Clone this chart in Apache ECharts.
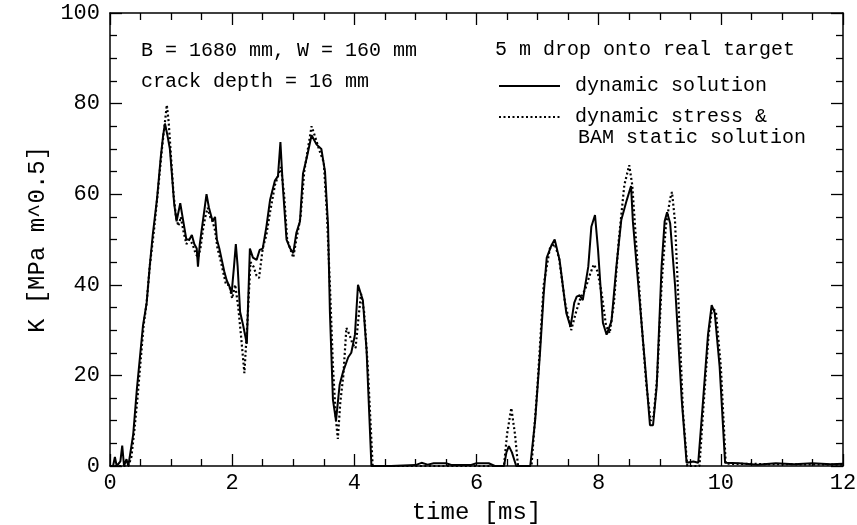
<!DOCTYPE html>
<html>
<head>
<meta charset="utf-8">
<script src="https://cdn.jsdelivr.net/npm/echarts@6/dist/echarts.min.js"></script>
<style>
  html, body { margin: 0; padding: 0; background: #fff; }
  #chart { width: 857px; height: 525px; }
</style>
</head>
<body>
<div id="chart"></div>
<script>
// time [ms] and K for the dynamic solution (solid line)
const solidTime = [0, 0.05, 0.08, 0.11, 0.14, 0.17, 0.2, 0.23, 0.27, 0.3, 0.33, 0.38, 0.44, 0.49, 0.54, 0.6, 0.65, 0.7, 0.77, 0.83, 0.87, 0.9, 0.94, 0.98, 1.01, 1.05, 1.09, 1.12, 1.15, 1.2, 1.25, 1.3, 1.34, 1.38, 1.42, 1.44, 1.47, 1.5, 1.54, 1.58, 1.62, 1.64, 1.68, 1.72, 1.75, 1.79, 1.83, 1.87, 1.91, 1.96, 1.99, 2.03, 2.06, 2.09, 2.13, 2.18, 2.24, 2.29, 2.34, 2.4, 2.45, 2.5, 2.56, 2.62, 2.7, 2.75, 2.79, 2.83, 2.89, 2.95, 3.0, 3.05, 3.11, 3.16, 3.22, 3.3, 3.34, 3.38, 3.46, 3.52, 3.57, 3.6, 3.65, 3.7, 3.76, 3.82, 3.9, 3.95, 4.01, 4.06, 4.09, 4.14, 4.2, 4.28, 4.6, 5.0, 5.1, 5.2, 5.3, 5.5, 5.6, 5.9, 6.0, 6.2, 6.3, 6.45, 6.49, 6.53, 6.58, 6.65, 6.88, 6.96, 7.04, 7.1, 7.15, 7.23, 7.28, 7.36, 7.47, 7.54, 7.6, 7.64, 7.69, 7.74, 7.83, 7.88, 7.94, 7.99, 8.07, 8.13, 8.21, 8.29, 8.37, 8.46, 8.53, 8.56, 8.67, 8.78, 8.84, 8.89, 8.95, 9.03, 9.08, 9.12, 9.17, 9.25, 9.36, 9.44, 9.55, 9.63, 9.71, 9.79, 9.85, 9.9, 9.98, 10.07, 10.3, 10.6, 10.9, 11.2, 11.5, 11.8, 12];
const solidK = [0, 0, 2, 0, 0, 1, 4.5, 0, 1.5, 0, 0, 7, 17, 24, 31, 36, 44, 51, 59, 68, 73, 75.6, 73, 70, 65, 58, 54, 56, 58, 54, 50, 50, 51, 49, 48, 44, 49, 52, 56, 60, 57, 56, 54, 55, 50, 48, 45.5, 43, 41, 39.5, 38, 44, 49, 44, 34, 31, 27, 48, 46, 45.5, 47.7, 48, 52.8, 58.7, 63, 64, 71.5, 61.6, 50, 48, 47, 51.4, 54, 64.6, 68, 73, 72, 71, 70, 65, 53, 34, 14.6, 10, 18, 21, 24, 25, 29, 40, 40.4, 36.6, 25.6, 0, 0, 0.2, 0.7, 0.3, 0.6, 0.6, 0.2, 0.2, 0.6, 0.6, 0, 0, 3, 4.4, 3, 0, 0, 10, 25, 38, 46, 48.8, 50, 45.5, 33.8, 30.7, 36, 37.4, 37.7, 36.6, 44, 52.8, 55.4, 47.7, 31.6, 29, 32, 44, 54.3, 58.7, 61.8, 54, 36.6, 19, 9, 9, 17.5, 44, 54, 56, 53.6, 40, 14.6, 0.7, 1, 0.7, 14.6, 29, 35.5, 33.8, 22, 0.7, 0.6, 0.3, 0.6, 0.4, 0.6, 0.4, 0.5];

// time [ms] and K for dynamic stress & BAM static solution (dotted line)
const dottedTime = [0, 0.1, 0.2, 0.3, 0.35, 0.4, 0.45, 0.5, 0.55, 0.6, 0.65, 0.72, 0.78, 0.85, 0.9, 0.93, 0.96, 1.0, 1.04, 1.08, 1.12, 1.16, 1.2, 1.25, 1.3, 1.35, 1.4, 1.44, 1.48, 1.52, 1.56, 1.6, 1.64, 1.68, 1.72, 1.76, 1.8, 1.85, 1.9, 1.95, 2.0, 2.05, 2.1, 2.15, 2.2, 2.25, 2.3, 2.35, 2.4, 2.44, 2.5, 2.56, 2.62, 2.7, 2.75, 2.8, 2.85, 2.9, 2.95, 3.0, 3.05, 3.12, 3.18, 3.24, 3.3, 3.35, 3.42, 3.5, 3.55, 3.6, 3.65, 3.7, 3.73, 3.77, 3.82, 3.87, 3.92, 3.97, 4.02, 4.07, 4.11, 4.16, 4.22, 4.3, 6.45, 6.5, 6.57, 6.63, 6.68, 6.9, 7.0, 7.1, 7.2, 7.28, 7.35, 7.45, 7.55, 7.63, 7.7, 7.78, 7.85, 7.92, 7.98, 8.05, 8.12, 8.18, 8.25, 8.33, 8.42, 8.5, 8.55, 8.62, 8.7, 8.78, 8.85, 8.9, 8.96, 9.03, 9.1, 9.17, 9.2, 9.25, 9.32, 9.38, 9.45, 9.65, 9.72, 9.8, 9.86, 9.92, 10.0, 10.08, 12];
const dottedK = [0, 0, 0, 0, 2, 8, 15, 23, 31, 36, 44, 52, 60, 70, 76, 79.7, 76, 68, 60, 55, 53, 55, 52, 49, 50, 49, 47, 46, 48, 52, 55, 57, 55, 54, 52, 48, 46, 43, 40, 40, 37, 40, 35, 28, 20.5, 32, 45, 44, 42, 41.5, 48, 51, 56, 62, 64, 66, 60, 50, 48, 46, 50, 55, 65, 70, 75, 73, 70, 67, 56, 40, 22, 10, 6, 14, 20, 30.5, 29, 27, 26, 33, 38, 34, 22, 0, 0, 7, 12.8, 7, 0, 0, 18, 40, 48, 49, 46, 36, 30, 34, 37, 39, 42, 44.5, 43, 38, 31, 29.3, 36, 50, 62, 66.4, 62, 48, 32, 18, 10, 11, 20, 40, 53, 59, 60.5, 54, 32, 12, 0, 0, 14, 29, 35, 34, 22, 0.5, 0.3];

const xTicks = { min: 0, max: 12, interval: 2 };
const yTicks = { min: 0, max: 100, interval: 20 };

const font = '"Courier New", "Liberation Mono", monospace';

function pairs(ts, ks) {
    return ts.map((t, i) => [t, ks[i]]);
}

function frameAxis(extra) {
    return Object.assign({
        type: 'value',
        axisLine: { show: true, onZero: false, lineStyle: { color: '#000', width: 1.5 } },
        axisTick: { show: true, inside: true, length: 12, lineStyle: { color: '#000', width: 1.3 } },
        minorTick: { show: true, splitNumber: 4, length: 7, lineStyle: { color: '#000', width: 1.3 } },
        splitLine: { show: false },
        minorSplitLine: { show: false }
    }, extra);
}

window.addEventListener('load', () => {
    let chart = echarts.init(document.getElementById('chart'));
    let option = {
        animation: false,
        backgroundColor: '#fff',
        grid: { left: 110, right: 14, top: 13, bottom: 59, containLabel: false, outerBoundsMode: 'none' },
        legend: {
            orient: 'vertical',
            left: 493,
            top: 71,
            itemWidth: 61,
            itemHeight: 14,
            itemGap: 11,
            itemStyle: { color: 'rgba(0,0,0,0)', borderWidth: 0, opacity: 0 },
            textStyle: { fontFamily: font, fontSize: 20, color: '#000', padding: [0, 0, 0, 10] },
            data: ['dynamic solution', 'dynamic stress &']
        },
        xAxis: [
            frameAxis(Object.assign({
                position: 'bottom',
                axisLabel: { color: '#000', fontFamily: font, fontSize: 22, margin: 6 },
                name: 'time [ms]',
                nameLocation: 'middle',
                nameGap: 35,
                nameTextStyle: { color: '#000', fontFamily: font, fontSize: 24 }
            }, xTicks)),
            frameAxis(Object.assign({ position: 'top', axisLabel: { show: false } }, xTicks))
        ],
        yAxis: [
            frameAxis(Object.assign({
                position: 'left',
                axisLabel: { color: '#000', fontFamily: font, fontSize: 22, margin: 10 },
                name: 'K [MPa m^0.5]',
                nameLocation: 'middle',
                nameGap: 60,
                nameTextStyle: { color: '#000', fontFamily: font, fontSize: 24 }
            }, yTicks)),
            frameAxis(Object.assign({ position: 'right', axisLabel: { show: false } }, yTicks))
        ],
        graphic: [
            { type: 'text', x: 141, y: 51, style: { text: 'B = 1680 mm, W = 160 mm', font: '20px ' + font, fill: '#000', verticalAlign: 'middle' } },
            { type: 'text', x: 141, y: 82, style: { text: 'crack depth = 16 mm', font: '20px ' + font, fill: '#000', verticalAlign: 'middle' } },
            { type: 'text', x: 495, y: 50, style: { text: '5 m drop onto real target', font: '20px ' + font, fill: '#000', verticalAlign: 'middle' } },
            { type: 'text', x: 578, y: 138, style: { text: 'BAM static solution', font: '20px ' + font, fill: '#000', verticalAlign: 'middle' } }
        ],
        series: [
            {
                name: 'dynamic solution',
                type: 'line',
                symbol: 'none',
                data: pairs(solidTime, solidK),
                lineStyle: { color: '#000', width: 2 },
                itemStyle: { color: '#000' },
                z: 3
            },
            {
                name: 'dynamic stress &',
                type: 'line',
                symbol: 'none',
                data: pairs(dottedTime, dottedK),
                lineStyle: { color: '#000', width: 2.2, type: [2, 2.5] },
                itemStyle: { color: '#000' },
                z: 2
            }
        ]
    };
    chart.setOption(option);
});
</script>
</body>
</html>
